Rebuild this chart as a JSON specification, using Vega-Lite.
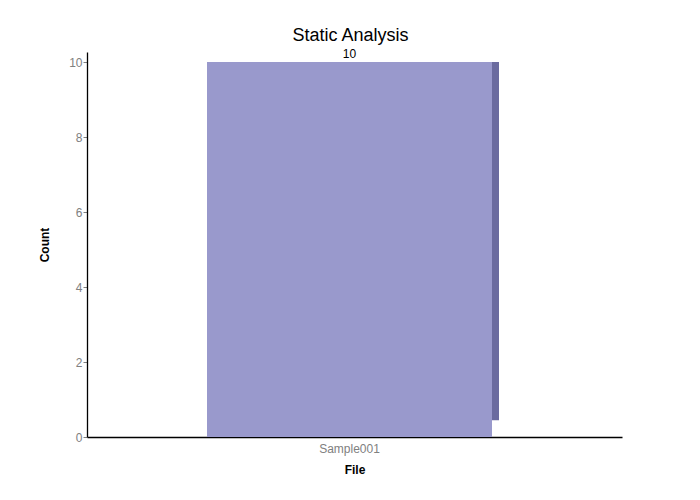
{
  "$schema": "https://vega.github.io/schema/vega-lite/v6.json",
  "width": 535,
  "height": 385,
  "autosize": {"type": "none"},
  "padding": {"left": 87, "top": 52, "right": 78, "bottom": 63},
  "background": "white",
  "title": {"text": "Static Analysis", "fontSize": 18, "font": "Liberation Sans", "fontWeight": "normal", "color": "black", "offset": 3, "dx": -4},
  "config": {"view": {"stroke": null}, "font": "Liberation Sans"},
  "data": {"values": [{"File": "Sample001", "Count": 10, "SideBase": 0.45}]},
  "encoding": {
    "x": {"field": "File", "type": "nominal", "scale": {"paddingInner": 0.1, "paddingOuter": 0.2},
      "axis": {"title": "File", "titleFontSize": 12, "titleFontWeight": "bold", "titleColor": "black", "titlePadding": 10,
        "labelAngle": 0, "labelColor": "#808080", "labelFontSize": 12, "labelOffset": -5, "labelPadding": 6,
        "ticks": false, "domainColor": "black", "domainWidth": 1.3}}
  },
  "layer": [
    {
      "mark": {"type": "bar", "width": 285, "xOffset": -5, "color": "#9999CC"},
      "encoding": {
        "y": {"field": "Count", "type": "quantitative",
          "scale": {"domain": [0, 10.27], "nice": false},
          "axis": {"title": "Count", "titleFontSize": 12, "titleFontWeight": "bold", "titleColor": "black", "titlePadding": 17,
            "values": [0, 2, 4, 6, 8, 10], "grid": false, "labelColor": "#808080", "labelFontSize": 12,
            "tickColor": "#808080", "tickSize": 4, "labelPadding": 1, "domainColor": "black", "domainWidth": 1.3}}
      }
    },
    {
      "mark": {"type": "bar", "width": 7, "xOffset": 141, "color": "#6B6B9F"},
      "encoding": {
        "y": {"field": "Count", "type": "quantitative"},
        "y2": {"field": "SideBase"}
      }
    },
    {
      "mark": {"type": "text", "dy": -8, "xOffset": -5, "fontSize": 12, "color": "black"},
      "encoding": {
        "y": {"field": "Count", "type": "quantitative"},
        "text": {"field": "Count", "type": "quantitative"}
      }
    }
  ]
}
